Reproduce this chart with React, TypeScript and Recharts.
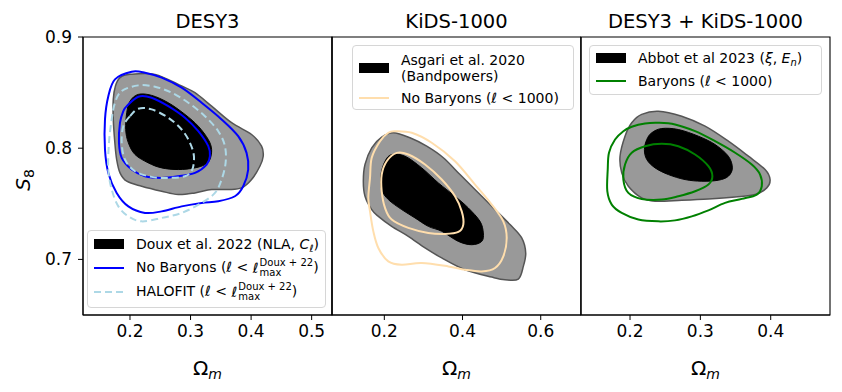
import React from 'react';
import { ScatterChart, Scatter, XAxis, YAxis, ReferenceArea } from 'recharts';

// contour vertices, as [Omega_m, S8]
const desOuter = [
  [0.1835, 0.8634], [0.2, 0.8664], [0.2413, 0.8664], [0.2853, 0.8559], [0.3073, 0.8499], [0.3348, 0.8378],
  [0.3678, 0.8229], [0.4008, 0.8123], [0.4173, 0.8018], [0.42, 0.7928], [0.4145, 0.7838], [0.4008, 0.7718],
  [0.3843, 0.7643], [0.3622, 0.7628], [0.3348, 0.7628], [0.3073, 0.7598], [0.2797, 0.7583], [0.2523, 0.7613],
  [0.2193, 0.7658], [0.1946, 0.7703], [0.1835, 0.7778], [0.178, 0.7898], [0.175, 0.8049], [0.1724, 0.8259],
  [0.1724, 0.8439], [0.176, 0.8559],
];
const desInner = [
  [0.2, 0.8423], [0.2137, 0.8484], [0.2358, 0.8475], [0.2632, 0.8409], [0.2908, 0.8304], [0.3128, 0.8198],
  [0.3293, 0.8078], [0.3348, 0.7988], [0.332, 0.7898], [0.3238, 0.7853], [0.3073, 0.7823], [0.2797, 0.7808],
  [0.2523, 0.7823], [0.2302, 0.7868], [0.2083, 0.7943], [0.1973, 0.8049], [0.1929, 0.8168], [0.1946, 0.8319],
];
const desNoBarOuter = [
  [0.1642, 0.8468], [0.1752, 0.8619], [0.2028, 0.8688], [0.2248, 0.8679], [0.2523, 0.8634], [0.2853, 0.8544],
  [0.3183, 0.8409], [0.3513, 0.8259], [0.3787, 0.8108], [0.3925, 0.7958], [0.3952, 0.7808], [0.387, 0.7658],
  [0.3733, 0.7568], [0.3458, 0.7523], [0.3183, 0.7508], [0.2853, 0.7477], [0.2523, 0.7432], [0.2248, 0.7418],
  [0.1973, 0.7477], [0.178, 0.7598], [0.1642, 0.7778], [0.1587, 0.7988], [0.1587, 0.8259],
];
const desNoBarInner = [
  [0.1946, 0.8378], [0.2137, 0.8463], [0.2358, 0.8454], [0.2632, 0.8378], [0.2908, 0.8274], [0.3128, 0.8153],
  [0.3293, 0.8018], [0.332, 0.7928], [0.3266, 0.7853], [0.3073, 0.7778], [0.2797, 0.7748], [0.2523, 0.7733],
  [0.2248, 0.7748], [0.2028, 0.7808], [0.1863, 0.7913], [0.1818, 0.8049], [0.1835, 0.8229], [0.189, 0.8334],
];
const desHalofitOuter = [
  [0.1863, 0.8514], [0.2137, 0.8565], [0.2413, 0.8553], [0.2688, 0.8499], [0.2963, 0.8409], [0.3238, 0.8288],
  [0.3458, 0.8153], [0.3568, 0.8018], [0.3579, 0.7868], [0.3513, 0.7718], [0.3403, 0.7598], [0.3183, 0.7508],
  [0.2853, 0.7418], [0.2523, 0.7373], [0.2193, 0.7342], [0.1973, 0.7387], [0.1808, 0.7477], [0.1698, 0.7628],
  [0.1642, 0.7808], [0.1653, 0.8049], [0.1698, 0.8259], [0.1752, 0.8409],
];
const desHalofitInner = [
  [0.2, 0.8288], [0.2137, 0.8355], [0.2358, 0.8349], [0.2632, 0.8274], [0.2853, 0.8168], [0.299, 0.8049],
  [0.3056, 0.7928], [0.3028, 0.7808], [0.2908, 0.7748], [0.2632, 0.7733], [0.2358, 0.7742], [0.2083, 0.7793],
  [0.1917, 0.7898], [0.1863, 0.8049], [0.189, 0.8198],
];

const kidsOuter = [
  [0.223, 0.8139], [0.2657, 0.8094], [0.3084, 0.8018], [0.3509, 0.7914], [0.3936, 0.7763], [0.4363, 0.7613],
  [0.4788, 0.7463], [0.5215, 0.7313], [0.5514, 0.7193], [0.5616, 0.7058], [0.5555, 0.6937], [0.5427, 0.6823],
  [0.5087, 0.6817], [0.4747, 0.6841], [0.4064, 0.6907], [0.3468, 0.7013], [0.3041, 0.7103], [0.2614, 0.7207],
  [0.2189, 0.7297], [0.1847, 0.7387], [0.1678, 0.7448], [0.1506, 0.7568], [0.1463, 0.7703], [0.1506, 0.7853],
  [0.1678, 0.8003], [0.1933, 0.8099],
];
const kidsInner = [
  [0.2189, 0.7943], [0.253, 0.7928], [0.2957, 0.7823], [0.3381, 0.7688], [0.3808, 0.7568], [0.4148, 0.7463],
  [0.4448, 0.7342], [0.4532, 0.7238], [0.4491, 0.7162], [0.4235, 0.7132], [0.3893, 0.7162], [0.3468, 0.7253],
  [0.3125, 0.7297], [0.2785, 0.7373], [0.2445, 0.7448], [0.2102, 0.7538], [0.1933, 0.7628], [0.1916, 0.7763],
  [0.2018, 0.7883],
];
const kidsNoBarOuter = [
  [0.2274, 0.8153], [0.2701, 0.8139], [0.3212, 0.8049], [0.3808, 0.7883], [0.432, 0.7673], [0.4747, 0.7493],
  [0.5043, 0.7342], [0.513, 0.7193], [0.5043, 0.7027], [0.4831, 0.6923], [0.4491, 0.6892], [0.4064, 0.6907],
  [0.3637, 0.6937], [0.2957, 0.6968], [0.2445, 0.6952], [0.2102, 0.6982], [0.1847, 0.7103], [0.1719, 0.7252],
  [0.1634, 0.7432], [0.1591, 0.7553], [0.1634, 0.7733], [0.1678, 0.7914], [0.189, 0.8063], [0.2102, 0.8139],
];
const kidsNoBarInner = [
  [0.2317, 0.7958], [0.2614, 0.7943], [0.3041, 0.7853], [0.3468, 0.7718], [0.3808, 0.7568], [0.398, 0.7432],
  [0.402, 0.7313], [0.3893, 0.7247], [0.3552, 0.7229], [0.3125, 0.7238], [0.2614, 0.7283], [0.2189, 0.7358],
  [0.2018, 0.7463], [0.1933, 0.7613], [0.1933, 0.7763], [0.2061, 0.7883],
];

const jointOuter = [
  [0.2403, 0.8333], [0.2735, 0.8288], [0.3067, 0.8198], [0.3398, 0.8063], [0.3683, 0.7928], [0.392, 0.7808],
  [0.3991, 0.7718], [0.3944, 0.7643], [0.3778, 0.7583], [0.3494, 0.7562], [0.3114, 0.7544], [0.2735, 0.7532],
  [0.2356, 0.7523], [0.2166, 0.7553], [0.1976, 0.7658], [0.1882, 0.7778], [0.1858, 0.7928], [0.1929, 0.8108],
  [0.2024, 0.8229], [0.2166, 0.8304],
];
const jointInner = [
  [0.2309, 0.8139], [0.2451, 0.8177], [0.2687, 0.8168], [0.2972, 0.8108], [0.3209, 0.8033], [0.3398, 0.7928],
  [0.3455, 0.7823], [0.3398, 0.7748], [0.3256, 0.7712], [0.302, 0.7703], [0.2782, 0.7718], [0.2545, 0.7763],
  [0.2356, 0.7823], [0.2238, 0.7898], [0.2204, 0.7988], [0.2238, 0.8078],
];
const jointBarOuter = [
  [0.2024, 0.8193], [0.2213, 0.8223], [0.2403, 0.8229], [0.264, 0.8214], [0.2925, 0.8153], [0.3209, 0.8063],
  [0.3494, 0.7959], [0.3731, 0.7853], [0.3849, 0.7763], [0.3873, 0.7658], [0.3802, 0.7583], [0.3589, 0.7544],
  [0.3351, 0.7508], [0.3114, 0.7441], [0.2878, 0.7387], [0.264, 0.7351], [0.2403, 0.7342], [0.2118, 0.7358],
  [0.1882, 0.7418], [0.174, 0.7493], [0.1677, 0.7613], [0.1683, 0.7808], [0.1701, 0.7959], [0.1787, 0.8078],
  [0.1905, 0.8153],
];
const jointBarInner = [
  [0.2024, 0.7959], [0.2213, 0.8018], [0.2451, 0.804], [0.2687, 0.8018], [0.2925, 0.7943], [0.3114, 0.7838],
  [0.3171, 0.7748], [0.3114, 0.7673], [0.2925, 0.7613], [0.2687, 0.7568], [0.2451, 0.7538], [0.2166, 0.7544],
  [0.1976, 0.7598], [0.1905, 0.7718], [0.1929, 0.7853],
];

const yDomain = [0.65, 0.9];
const yTicks = [0.7, 0.8, 0.9];
const desTicks = [0.2, 0.3, 0.4, 0.5];
const kidsTicks = [0.2, 0.4, 0.6];
const jointTicks = [0.2, 0.3, 0.4];

const FONT = '"DejaVu Sans", sans-serif';
const GRAY = '#999999';
const EDGE = '#555555';

const toPts = (a: number[][]) => a.map(([x, y]) => ({ x, y }));

// closed catmull-rom through the pixel points recharts hands us
function smoothPath(pts: { x: number; y: number }[]) {
  const p = pts.filter((q) => q.x != null && q.y != null);
  const n = p.length;
  if (!n) return '';
  let d = `M${p[0].x},${p[0].y}`;
  for (let i = 0; i < n; i++) {
    const a = p[(i - 1 + n) % n], b = p[i], c = p[(i + 1) % n], e = p[(i + 2) % n];
    d += `C${b.x + (c.x - a.x) / 6},${b.y + (c.y - a.y) / 6} ${c.x - (e.x - b.x) / 6},${c.y - (e.y - b.y) / 6} ${c.x},${c.y}`;
  }
  return d + 'Z';
}

const contourLine = (fill: string, stroke: string, width: number, dash?: string) => (props: any) => (
  <path d={smoothPath(props.points || [])} fill={fill} stroke={stroke} strokeWidth={width} strokeDasharray={dash} />
);
const noDot = () => <g />;

type Layer = { data: number[][]; fill: string; stroke: string; width: number; dash?: string };

function Panel({ left, width, yWidth, marginRight, xDomain, xTicks, showYLabels, layers }: {
  left: number; width: number; yWidth: number; marginRight: number; xDomain: number[]; xTicks: number[];
  showYLabels: boolean; layers: Layer[];
}) {
  const tickStyle = { fill: '#000', fontSize: 17, fontFamily: FONT };
  return (
    <div style={{ position: 'absolute', left, top: 0 }}>
      <ScatterChart width={width} height={392} margin={{ top: 37, right: marginRight, bottom: 47, left: 0 }}>
        <XAxis type="number" dataKey="x" domain={xDomain} ticks={xTicks} allowDataOverflow height={30}
          tickSize={5} tickMargin={5} tick={tickStyle} stroke="#000" tickFormatter={(v) => String(v)} />
        <YAxis type="number" dataKey="y" domain={yDomain} ticks={yTicks} allowDataOverflow width={yWidth}
          tickSize={5} tickMargin={6} tick={showYLabels ? tickStyle : false} stroke="#000" tickFormatter={(v) => String(v)} />
        {layers.map((l, i) => (
          <Scatter key={i} data={toPts(l.data)} shape={noDot} isAnimationActive={false}
            line={contourLine(l.fill, l.stroke, l.width, l.dash)} />
        ))}
        <ReferenceArea x1={xDomain[0]} x2={xDomain[1]} y1={yDomain[0]} y2={yDomain[1]} fill="none" fillOpacity={0}
          stroke="#000" strokeWidth={1.1} ifOverflow="visible" />
      </ScatterChart>
    </div>
  );
}

const ell = <span style={{ fontStyle: 'italic' }}>ℓ</span>;
const sub = (c: React.ReactNode) => (
  <span style={{ fontSize: 10, position: 'relative', top: 3, lineHeight: 0 }}>{c}</span>
);
const lmax = (
  <span style={{ display: 'inline-flex', alignItems: 'center', verticalAlign: 'middle' }}>
    {ell}
    <span style={{ display: 'inline-flex', flexDirection: 'column', fontSize: 10, lineHeight: '10px', marginLeft: 1 }}>
      <span>Doux + 22</span>
      <span>max</span>
    </span>
  </span>
);

const box: React.CSSProperties = {
  position: 'absolute', border: '1px solid #d6d6d6', borderRadius: 4, background: 'rgba(255,255,255,0.85)', boxSizing: 'border-box',
};
const row = (top: number): React.CSSProperties => ({
  position: 'absolute', left: 6, top: top - 11, height: 22, display: 'flex', alignItems: 'center', whiteSpace: 'pre',
});
const Patch = () => <svg width={30} height={10} style={{ marginRight: 12, flex: 'none' }}><rect x={0} y={0} width={30} height={10} fill="#000" /></svg>;
const Handle = ({ color, dash }: { color: string; dash?: string }) => (
  <svg width={30} height={10} style={{ marginRight: 12, flex: 'none' }}>
    <line x1={0} x2={30} y1={5} y2={5} stroke={color} strokeWidth={2} strokeDasharray={dash} />
  </svg>
);

export default function App() {
  const legendFont: React.CSSProperties = { fontFamily: FONT, fontSize: 14, color: '#000' };
  return (
    <div style={{ position: 'absolute', left: 0, top: 0, width: 842, height: 392, background: '#fff', overflow: 'hidden' }}>
      <Panel left={0} width={340} yWidth={83} marginRight={8} xDomain={[0.1224, 0.5336]} xTicks={desTicks} showYLabels
        layers={[
          { data: desOuter, fill: GRAY, stroke: EDGE, width: 1.5 },
          { data: desInner, fill: '#000', stroke: '#000', width: 1 },
          { data: desNoBarOuter, fill: 'none', stroke: '#0000ff', width: 2 },
          { data: desNoBarInner, fill: 'none', stroke: '#0000ff', width: 2 },
          { data: desHalofitOuter, fill: 'none', stroke: '#add8e6', width: 2, dash: '7 4' },
          { data: desHalofitInner, fill: 'none', stroke: '#add8e6', width: 2, dash: '7 4' },
        ]} />
      <Panel left={322} width={259} yWidth={10} marginRight={0} xDomain={[0.0662, 0.703]} xTicks={kidsTicks} showYLabels={false}
        layers={[
          { data: kidsOuter, fill: GRAY, stroke: EDGE, width: 1.5 },
          { data: kidsInner, fill: '#000', stroke: '#000', width: 1 },
          { data: kidsNoBarOuter, fill: 'none', stroke: '#ffdead', width: 2 },
          { data: kidsNoBarInner, fill: 'none', stroke: '#ffdead', width: 2 },
        ]} />
      <Panel left={571} width={267} yWidth={10} marginRight={8} xDomain={[0.1303, 0.4843]} xTicks={jointTicks} showYLabels={false}
        layers={[
          { data: jointOuter, fill: GRAY, stroke: EDGE, width: 1.5 },
          { data: jointInner, fill: '#000', stroke: '#000', width: 1 },
          { data: jointBarOuter, fill: 'none', stroke: '#008000', width: 2 },
          { data: jointBarInner, fill: 'none', stroke: '#008000', width: 2 },
        ]} />

      <svg width={842} height={392} style={{ position: 'absolute', left: 0, top: 0, pointerEvents: 'none' }} fontFamily={FONT}>
        <text x={207.5} y={28} textAnchor="middle" fontSize={19.5}>DESY3</text>
        <text x={456.5} y={28} textAnchor="middle" fontSize={19.5}>KiDS-1000</text>
        <text x={705.5} y={28} textAnchor="middle" fontSize={19.5}>DESY3 + KiDS-1000</text>
        {[207.5, 456.5, 705.5].map((cx) => (
          <text key={cx} x={cx} y={375} textAnchor="middle" fontSize={20}>
            Ω<tspan fontStyle="italic" fontSize={14} dy={4}>m</tspan>
          </text>
        ))}
        <text transform="translate(30,180) rotate(-90)" textAnchor="middle" fontSize={20}>
          <tspan fontStyle="italic">S</tspan><tspan fontSize={14} dy={4}>8</tspan>
        </text>
      </svg>

      <div style={{ ...box, ...legendFont, left: 87, top: 230, width: 239, height: 78 }}>
        <div style={row(12.5)}><Patch /><span>Doux et al. 2022 (NLA, <i>C</i>{sub(ell)})</span></div>
        <div style={row(36.5)}><Handle color="#0000ff" /><span>No Baryons ({ell} &lt; {lmax})</span></div>
        <div style={row(61)}><Handle color="#add8e6" dash="7 4" /><span>HALOFIT ({ell} &lt; {lmax})</span></div>
      </div>

      <div style={{ ...box, ...legendFont, left: 352, top: 45, width: 222, height: 65 }}>
        <div style={row(22)}>
          <Patch />
          <span style={{ lineHeight: '16px' }}>Asgari et al. 2020{'\n'}(Bandpowers)</span>
        </div>
        <div style={row(51.5)}><Handle color="#ffdead" /><span>No Baryons ({ell} &lt; 1000)</span></div>
      </div>

      <div style={{ ...box, ...legendFont, left: 589, top: 45, width: 233, height: 50 }}>
        <div style={row(12)}><Patch /><span>Abbot et al 2023 (<i>ξ</i>, <i>E</i>{sub(<i>n</i>)})</span></div>
        <div style={row(35)}><Handle color="#008000" /><span>Baryons ({ell} &lt; 1000)</span></div>
      </div>
    </div>
  );
}
